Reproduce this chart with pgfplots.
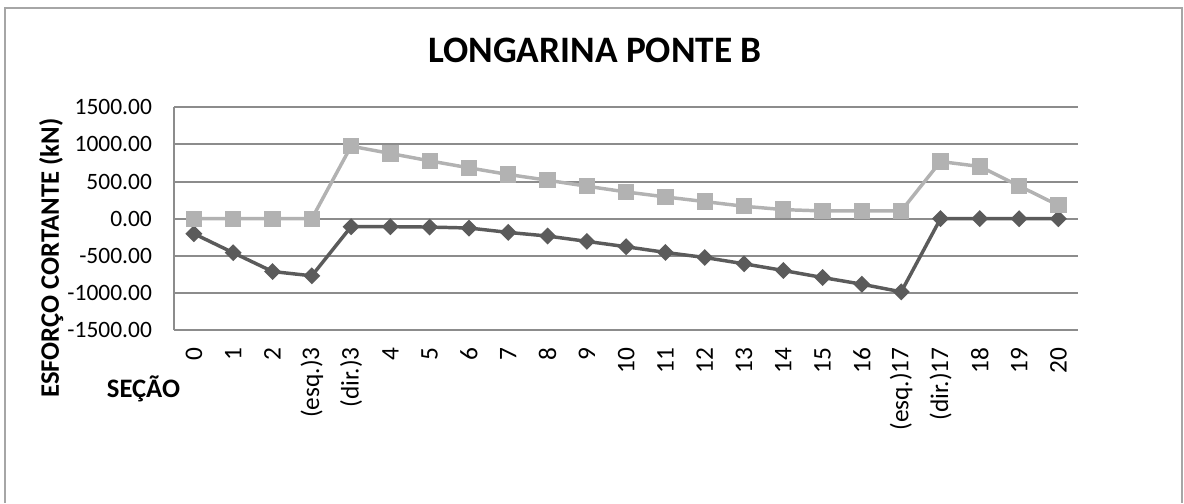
\documentclass[border=0pt]{standalone}
\usepackage{fontspec}
\setmainfont{Carlito}
\usepackage{pgfplots}
\pgfplotsset{compat=1.18}
\definecolor{darkser}{HTML}{5B5B5B}
\definecolor{lightser}{HTML}{B2B2B2}
\definecolor{gridc}{HTML}{8C8C8C}
\definecolor{framec}{HTML}{A6A6A6}

\begin{document}
\begin{tikzpicture}
\path[use as bounding box] (0,0) rectangle (444pt,-188.625pt);
\draw[framec, line width=0.75pt] (2.06pt,-188.625pt) -- (2.06pt,-3pt) -- (443.2pt,-3pt) -- (443.2pt,-188.625pt);
\begin{axis}[
    at={(65.36pt,-123.75pt)}, anchor=south west,
    scale only axis, width=338.9pt, height=83.5pt,
    xmin=-0.5, xmax=22.5, ymin=-1500, ymax=1500,
    xtick={0,...,22},
    xticklabels={0,1,2,(esq.)3,(dir.)3,4,5,6,7,8,9,10,11,12,13,14,15,16,(esq.)17,(dir.)17,18,19,20},
    ytick={-1500,-1000,...,1500},
    yticklabels={-1500.00,-1000.00,-500.00,0.00,500.00,1000.00,1500.00},
    ymajorgrids, grid style={gridc, line width=0.75pt},
    axis x line*=bottom, axis y line*=left,
    x axis line style={draw=none},
    y axis line style={gridc, line width=0.75pt},
    major tick length=0pt, tick style={draw=none},
    xticklabel style={font=\fontsize{9.5pt}{11pt}\selectfont, yshift=-6.3pt, rotate=90, anchor=east, inner sep=0pt},
    yticklabel style={font=\fontsize{8.8pt}{10pt}\selectfont, anchor=east, inner sep=0pt, xshift=-8.2pt},
    clip=false,
]
\addplot[darkser, line width=1.3pt, mark=square*, mark size=1.6pt, mark options={rotate=45}] coordinates {
(0,-203) (1,-459) (2,-712) (3,-770) (4,-108) (5,-108) (6,-113) (7,-126) (8,-185) (9,-234)
(10,-306) (11,-378) (12,-455) (13,-523) (14,-608) (15,-698) (16,-793) (17,-883) (18,-986)
(19,0) (20,0) (21,0) (22,0)};
\addplot[lightser, line width=1.3pt, mark=square*, mark size=2.4pt] coordinates {
(0,0) (1,0) (2,0) (3,0) (4,977) (5,878) (6,779) (7,685) (8,595) (9,518)
(10,437) (11,360) (12,293) (13,230) (14,167) (15,122) (16,104) (17,104) (18,104)
(19,770) (20,703) (21,441) (22,180)};
\end{axis}
\node[anchor=base, font=\fontsize{14pt}{17pt}\selectfont\bfseries] at (223.1pt,-23.5pt) {LONGARINA PONTE B};
\node[rotate=90, anchor=base, font=\fontsize{10pt}{12pt}\selectfont\bfseries] at (22.1pt,-96.75pt) {ESFORÇO CORTANTE (kN)};
\node[anchor=base, font=\fontsize{10pt}{12pt}\selectfont\bfseries] at (53.8pt,-148.9pt) {SEÇÃO};
\end{tikzpicture}
\end{document}
